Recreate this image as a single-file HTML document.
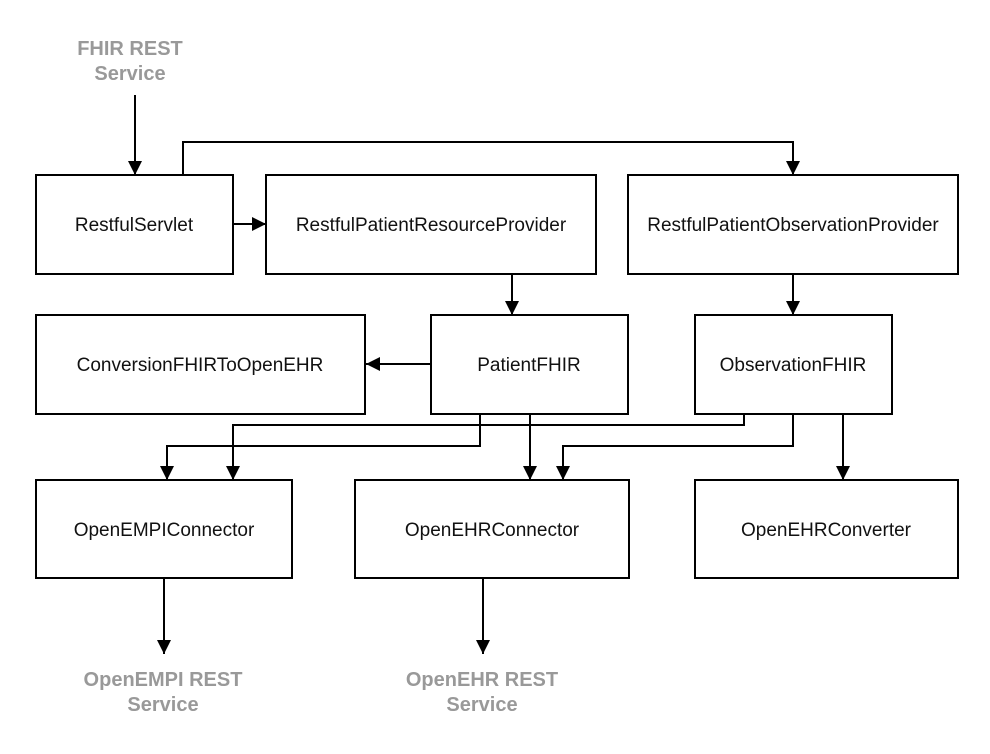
<!DOCTYPE html>
<html><head><meta charset="utf-8"><style>
html,body{margin:0;padding:0;background:#fff;}
svg{display:block;}
text{font-family:"Liberation Sans",Arial,sans-serif;}
.n{font-size:19px;fill:#111;text-anchor:middle;}
.g{font-size:20px;font-weight:bold;fill:#999;text-anchor:middle;}
rect{fill:#fff;stroke:#000;stroke-width:2;}
.l{fill:none;stroke:#000;stroke-width:2;}
</style></head><body>
<svg width="990" height="754" viewBox="0 0 990 754">
<defs>
<marker id="b" viewBox="0 0 10 10" refX="10" refY="5" markerWidth="14" markerHeight="14" markerUnits="userSpaceOnUse" orient="auto"><path d="M0,0 L10,5 L0,10 z" fill="#000"/></marker></defs>
<text class="g" x="130" y="55">FHIR REST</text>
<text class="g" x="130" y="80">Service</text>
<path class="l" d="M135,95 V175" marker-end="url(#b)"/>
<path class="l" d="M183,175 V142 H793 V175" marker-end="url(#b)"/>
<path class="l" d="M233,224 H266" marker-end="url(#b)"/>
<path class="l" d="M512,274 V315" marker-end="url(#b)"/>
<path class="l" d="M793,274 V315" marker-end="url(#b)"/>
<path class="l" d="M431,364 H366" marker-end="url(#b)"/>
<path class="l" d="M480,414 V446 H167 V480" marker-end="url(#b)"/>
<path class="l" d="M744,414 V425 H233 V480" marker-end="url(#b)"/>
<path class="l" d="M530,414 V480" marker-end="url(#b)"/>
<path class="l" d="M793,414 V446 H563 V480" marker-end="url(#b)"/>
<path class="l" d="M843,414 V480" marker-end="url(#b)"/>
<path class="l" d="M164,578 V654" marker-end="url(#b)"/>
<path class="l" d="M483,578 V654" marker-end="url(#b)"/>
<rect x="36" y="175" width="197" height="99"/>
<rect x="266" y="175" width="330" height="99"/>
<rect x="628" y="175" width="330" height="99"/>
<rect x="36" y="315" width="329" height="99"/>
<rect x="431" y="315" width="197" height="99"/>
<rect x="695" y="315" width="197" height="99"/>
<rect x="36" y="480" width="256" height="98"/>
<rect x="355" y="480" width="274" height="98"/>
<rect x="695" y="480" width="263" height="98"/>
<text class="n" x="134" y="231">RestfulServlet</text>
<text class="n" x="431" y="231">RestfulPatientResourceProvider</text>
<text class="n" x="793" y="231">RestfulPatientObservationProvider</text>
<text class="n" x="200" y="371">ConversionFHIRToOpenEHR</text>
<text class="n" x="529" y="371">PatientFHIR</text>
<text class="n" x="793" y="371">ObservationFHIR</text>
<text class="n" x="164" y="536">OpenEMPIConnector</text>
<text class="n" x="492" y="536">OpenEHRConnector</text>
<text class="n" x="826" y="536">OpenEHRConverter</text>
<text class="g" x="163" y="686">OpenEMPI REST</text>
<text class="g" x="163" y="711">Service</text>
<text class="g" x="482" y="686">OpenEHR REST</text>
<text class="g" x="482" y="711">Service</text>
</svg>
</body></html>
